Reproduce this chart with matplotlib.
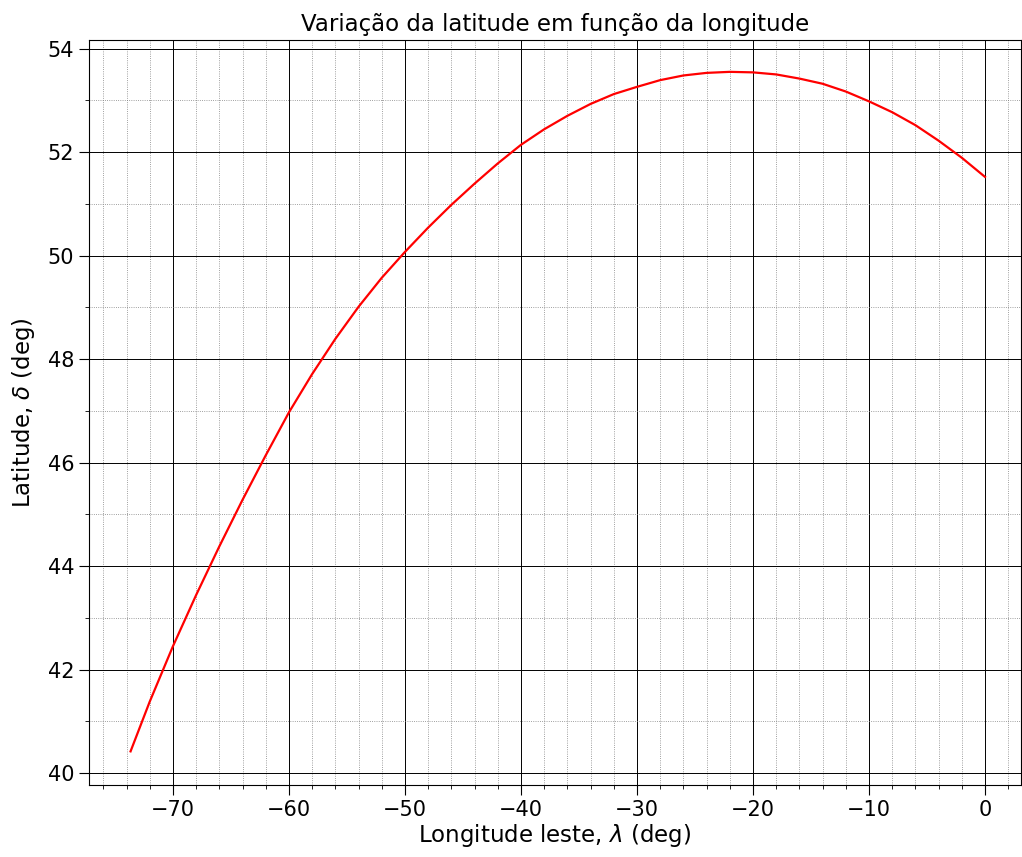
import matplotlib.pyplot as plt
from matplotlib.ticker import MultipleLocator

plt.switch_backend("Agg")

# Values (longitude east, latitude), deg
longitude = [-73.65, -72, -70, -68, -66, -64, -62, -60, -58, -56, -54, -52,
             -50, -48, -46, -44, -42, -40, -38, -36, -34, -32, -30, -28,
             -26, -24, -22, -20, -18, -16, -14, -12, -10, -8, -6, -4, -2, 0]
latitude = [40.42, 41.38, 42.45, 43.44, 44.38, 45.28, 46.14, 46.97, 47.71,
            48.39, 49.01, 49.57, 50.07, 50.54, 50.98, 51.39, 51.78, 52.14,
            52.44, 52.70, 52.93, 53.12, 53.26, 53.39, 53.48, 53.53, 53.55,
            53.54, 53.50, 53.42, 53.32, 53.17, 52.98, 52.77, 52.52, 52.22,
            51.89, 51.52]

title = "Variação da latitude em função da longitude"
xlabel = r"Longitude leste, $\lambda$ (deg)"
ylabel = r"Latitude, $\delta$ (deg)"

fig = plt.figure(figsize=(10.22, 8.57), dpi=100)
ax = fig.add_axes([0.087, 0.084, 0.912, 0.869])

ax.plot(longitude, latitude, color="red", lw=1.6)

ax.set_xlim(-77.24, 3.1)
ax.set_ylim(39.77, 54.16)

ax.xaxis.set_major_locator(MultipleLocator(10))
ax.xaxis.set_minor_locator(MultipleLocator(2))
ax.yaxis.set_major_locator(MultipleLocator(2))
ax.yaxis.set_minor_locator(MultipleLocator(1))

ax.grid(which="major", color="black", lw=0.7, ls="-")
ax.grid(which="minor", color="gray", lw=0.6, ls=":")

ax.tick_params(which="major", labelsize=15, length=7)
ax.tick_params(which="minor", length=3)

ax.set_title(title, fontsize=16.5, pad=7)
ax.set_xlabel(xlabel, fontsize=16.5, labelpad=2)
ax.set_ylabel(ylabel, fontsize=16.5, labelpad=8)

fig.savefig("out.png", dpi=100)
